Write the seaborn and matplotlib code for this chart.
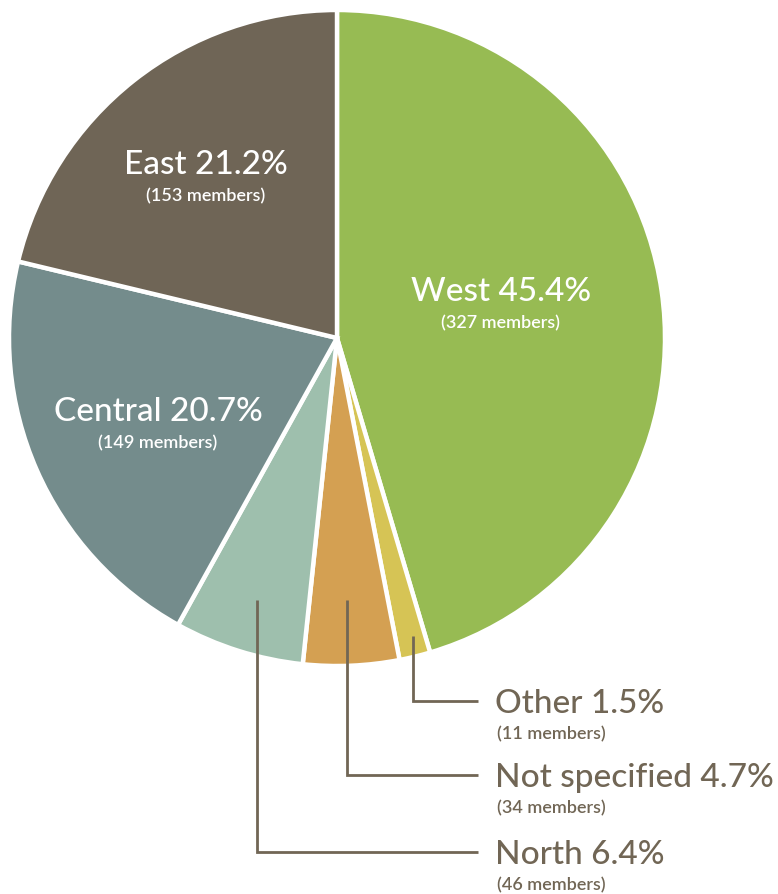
import matplotlib
matplotlib.use("Agg")
import matplotlib.pyplot as plt
import seaborn as sns

# data (clockwise from 12 o'clock)
regions = ["West", "Other", "Not specified", "North", "Central", "East"]
members = [327, 11, 34, 46, 149, 153]
percents = ["45.4%", "1.5%", "4.7%", "6.4%", "20.7%", "21.2%"]
colors = ["#97bb53", "#d6c455", "#d4a052", "#9ebfad", "#748c8c", "#6f6556"]

W, H = 778, 894
text_dark = "#716655"

sns.set_style("white")
plt.rcParams["font.family"] = ["Lato", "DejaVu Sans"]

fig = plt.figure(figsize=(W / 100, H / 100), dpi=100)
ax = fig.add_axes([0, 0, 1, 1])

# pie centre/radius in pixel space (y measured from the bottom)
cx, cy, r = 337, H - 338, 328
ax.pie(members, colors=sns.color_palette(colors), startangle=90, counterclock=False,
       center=(cx, cy), radius=r, frame=True,
       wedgeprops=dict(edgecolor="white", linewidth=3.2))
ax.set_xlim(0, W)
ax.set_ylim(0, H)
ax.set_aspect("equal")
ax.axis("off")

def yy(y):
    return H - y

big, small = 24, 13

# labels inside the big wedges
inside = {"West": (501, 292), "East": (206, 165), "Central": (158, 412)}
for name, (x, y) in inside.items():
    i = regions.index(name)
    ax.text(x, yy(y), f"{name} {percents[i]}", color="white", fontsize=big,
            fontweight="medium", ha="center", va="center")
    ax.text(x, yy(y + 31), f"({members[i]} members)", color="white", fontsize=small,
            fontweight="semibold", ha="center", va="center")

# call-outs for the small wedges
callouts = {"Other": (413, 636, 701), "Not specified": (347, 600, 775), "North": (257, 600, 852)}
for name, (x0, y0, y1) in callouts.items():
    i = regions.index(name)
    ax.plot([x0, x0, 478], [yy(y0), yy(y1), yy(y1)], color=text_dark, lw=2,
            solid_joinstyle="miter", solid_capstyle="butt")
    ax.text(495, yy(y1 + 3), f"{name} {percents[i]}", color=text_dark, fontsize=big,
            fontweight="medium", ha="left", va="center")
    ax.text(497, yy(y1 + 33), f"({members[i]} members)", color=text_dark, fontsize=small,
            fontweight="semibold", ha="left", va="center")

fig.savefig("out.png", dpi=100, facecolor="white")
